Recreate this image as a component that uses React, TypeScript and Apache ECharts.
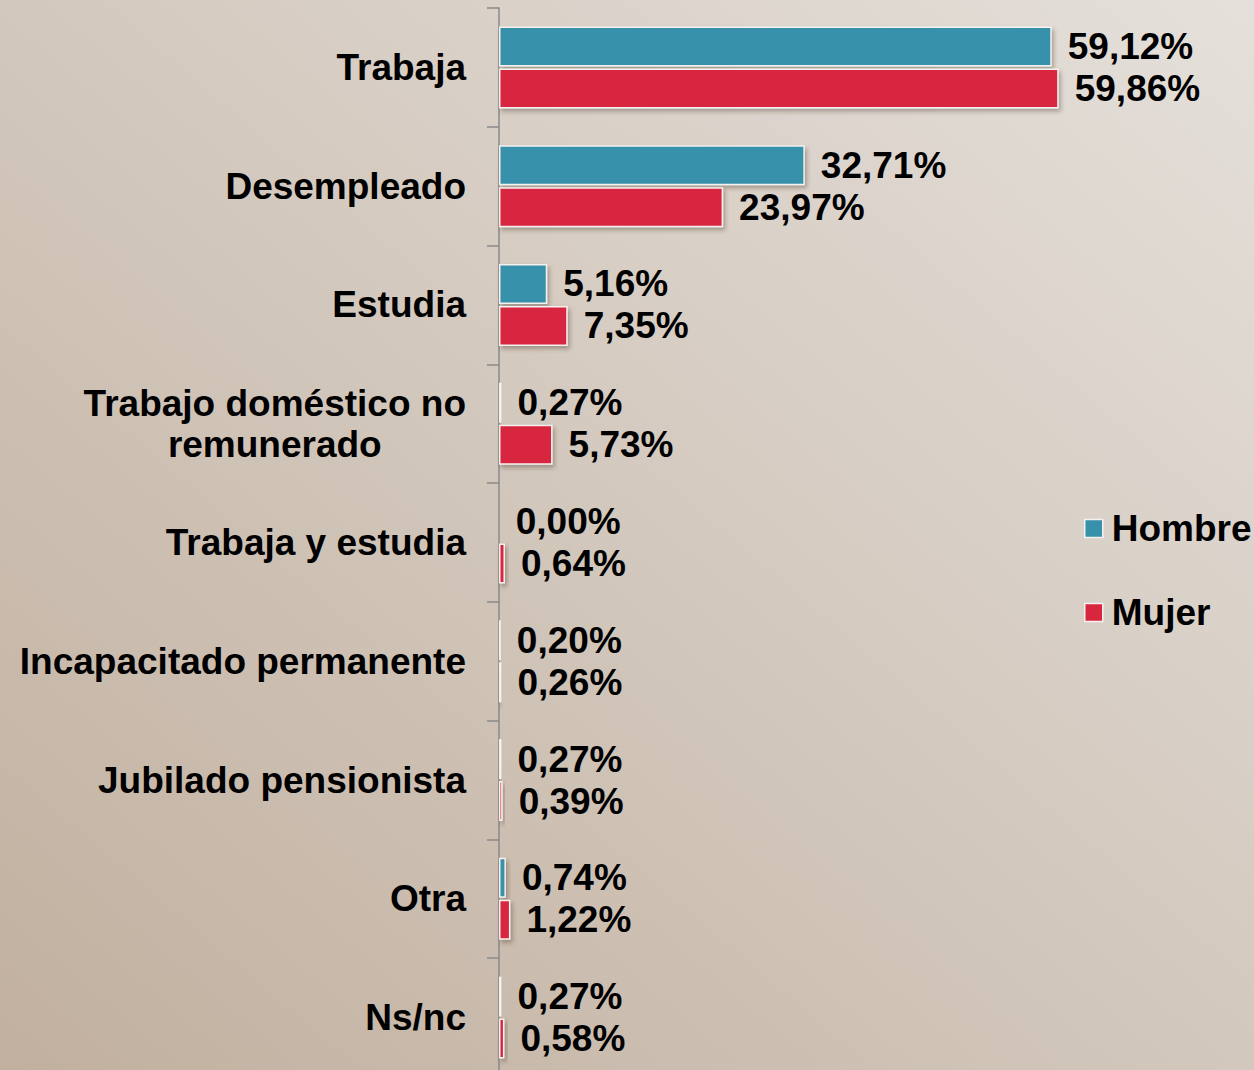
import React, { useEffect, useRef } from "react";
import * as echarts from "echarts";

const categories = [
  "Trabaja",
  "Desempleado",
  "Estudia",
  "Trabajo doméstico no\nremunerado",
  "Trabaja y estudia",
  "Incapacitado permanente",
  "Jubilado pensionista",
  "Otra",
  "Ns/nc",
];
const hombre = [59.12, 32.71, 5.16, 0.27, 0.0, 0.2, 0.27, 0.74, 0.27];
const mujer = [59.86, 23.97, 7.35, 5.73, 0.64, 0.26, 0.39, 1.22, 0.58];
const seriesNames = ["Hombre", "Mujer"];
const colors = ["#3891aa", "#d9263f"];

const FONT = "Liberation Sans, Arial, sans-serif";
const FS = 37;

export default function App() {
  const ref = useRef<HTMLDivElement>(null);
  useEffect(() => {
    document.body.style.margin = "0";
    const chart = echarts.init(ref.current!, null, { renderer: "svg" });
    const mkSeries = (name: string, data: number[], color: string) => ({
      name,
      type: "bar",
      data,
      barWidth: 40,
      barGap: "5%",
      itemStyle: {
        color,
        borderColor: "#f4f1ee",
        borderWidth: 1.5,
        shadowColor: "rgba(60,40,20,0.35)",
        shadowBlur: 4,
        shadowOffsetX: 2,
        shadowOffsetY: 3,
      },
      label: {
        show: true,
        position: "right",
        distance: 16,
        color: "#000",
        fontFamily: FONT,
        fontWeight: "bold",
        fontSize: FS,
        formatter: (p: any) => p.value.toFixed(2).replace(".", ",") + "%",
      },
    });
    chart.setOption({
      animation: false,
      backgroundColor: new echarts.graphic.LinearGradient(1, 0, 0, 1, [
        { offset: 0, color: "#e5e0db" },
        { offset: 1, color: "#c1b09f" },
      ]),
      grid: { left: 499, top: 8, width: 561, height: 1069, outerBoundsMode: "none", containLabel: false },
      legend: {
        orient: "vertical",
        left: 1084,
        top: 510,
        padding: 0,
        itemWidth: 18,
        itemHeight: 18,
        itemGap: 47,
        icon: "rect",
        itemStyle: { borderColor: "#f4f1ee", borderWidth: 1.5, shadowBlur: 0, shadowOffsetX: 0, shadowOffsetY: 0 },
        textStyle: {
          color: "#000",
          fontFamily: FONT,
          fontWeight: "bold",
          fontSize: FS,
          padding: [0, 0, 0, 4],
        },
        data: seriesNames,
      },
      xAxis: { type: "value", min: 0, max: 60, show: false },
      yAxis: {
        type: "category",
        inverse: true,
        data: categories,
        axisLine: { show: true, lineStyle: { color: "#8a8a8a", width: 1.5 } },
        axisTick: { show: true, length: 12, lineStyle: { color: "#8a8a8a", width: 1.5 } },
        axisLabel: {
          margin: 33,
          color: "#000",
          fontFamily: FONT,
          fontWeight: "bold",
          fontSize: FS,
          formatter: (v: string) =>
            v.includes("\n")
              ? v
                  .split("\n")
                  .map((s) => "{c|" + s + "}")
                  .join("\n")
              : v,
          rich: {
            c: {
              align: "center",
              color: "#000",
              fontFamily: FONT,
              fontWeight: "bold",
              fontSize: FS,
              lineHeight: 41,
            },
          },
        },
      },
      series: [
        mkSeries(seriesNames[0], hombre, colors[0]),
        mkSeries(seriesNames[1], mujer, colors[1]),
      ],
    });
    return () => chart.dispose();
  }, []);
  return <div ref={ref} style={{ width: 1254, height: 1070 }} />;
}
